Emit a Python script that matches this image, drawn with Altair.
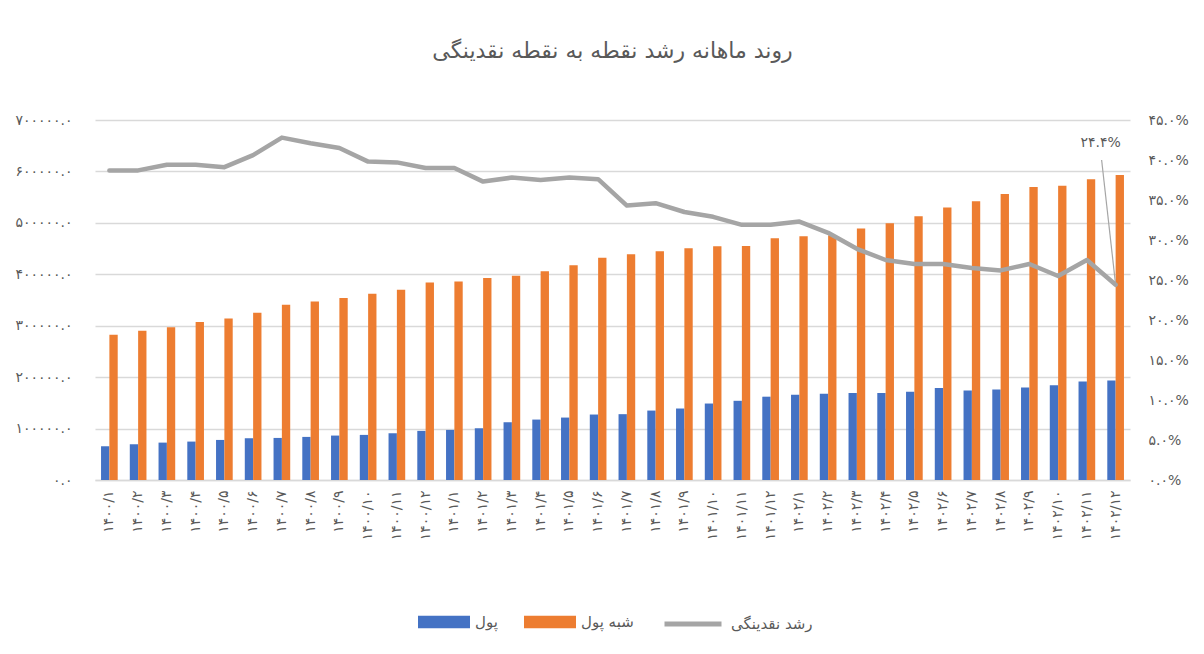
import altair as alt
import pandas as pd

months = [
    "۱۴۰۰/۱", "۱۴۰۰/۲", "۱۴۰۰/۳", "۱۴۰۰/۴", "۱۴۰۰/۵", "۱۴۰۰/۶",
    "۱۴۰۰/۷", "۱۴۰۰/۸", "۱۴۰۰/۹", "۱۴۰۰/۱۰", "۱۴۰۰/۱۱", "۱۴۰۰/۱۲",
    "۱۴۰۱/۱", "۱۴۰۱/۲", "۱۴۰۱/۳", "۱۴۰۱/۴", "۱۴۰۱/۵", "۱۴۰۱/۶",
    "۱۴۰۱/۷", "۱۴۰۱/۸", "۱۴۰۱/۹", "۱۴۰۱/۱۰", "۱۴۰۱/۱۱", "۱۴۰۱/۱۲",
    "۱۴۰۲/۱", "۱۴۰۲/۲", "۱۴۰۲/۳", "۱۴۰۲/۴", "۱۴۰۲/۵", "۱۴۰۲/۶",
    "۱۴۰۲/۷", "۱۴۰۲/۸", "۱۴۰۲/۹", "۱۴۰۲/۱۰", "۱۴۰۲/۱۱", "۱۴۰۲/۱۲",
]

pool = [
    65600, 69500, 72700, 74700, 77900, 81200, 81800, 83800, 86400, 87700, 90900, 95500,
    97400, 100600, 112300, 117500, 121400, 127300, 128000, 135000, 139000, 148700, 154000, 162000,
    166000, 167500, 169000, 169000, 171500, 179000, 174000, 176000, 180000, 184000, 191600, 193500,
]

quasi_money = [
    282500, 290000, 297000, 307000, 314000, 325000, 341000, 347000, 354000, 362000, 370000, 384000,
    386000, 393000, 397000, 406000, 417500, 432000, 439000, 445000, 450600, 454500, 455000, 470000,
    474000, 476000, 489000, 499000, 513000, 530000, 542000, 556000, 569500, 572000, 585000, 593000,
]

growth_pct = [
    38.7, 38.7, 39.4, 39.4, 39.1, 40.6, 42.8, 42.1, 41.5, 39.8, 39.7, 39.0,
    39.0, 37.3, 37.8, 37.5, 37.8, 37.6, 34.3, 34.6, 33.5, 32.9, 31.9, 31.9,
    32.3, 30.9, 28.9, 27.5, 27.0, 27.0, 26.5, 26.2, 27.0, 25.5, 27.5, 24.4,
]

series_names = ["پول", "شبه پول"]
series_colors = ["#4472C4", "#ED7D31"]
line_name = "رشد نقدینگی"
line_color = "#A5A5A5"
title_text = "روند ماهانه رشد نقطه به نقطه نقدینگی"
annot_text = "۲۴.۴%"
annot_label_level = 0.421
annot_leader_top = 0.40

FONT = "DejaVu Sans"
TXT = "#595959"
GRID = "#D9D9D9"

bars_df = pd.DataFrame({
    "month": months * 2,
    "series": [series_names[0]] * len(months) + [series_names[1]] * len(months),
    "value": pool + quasi_money,
})
line_df = pd.DataFrame({
    "month": months,
    "growth": [g / 100 for g in growth_pct],
    "name": line_name,
})
ann_df = pd.DataFrame({
    "month": [months[-1]],
    "growth": [growth_pct[-1] / 100],
    "top": [annot_leader_top],
    "label_y": [annot_label_level],
    "text": [annot_text],
})

FA = "۰۱۲۳۴۵۶۷۸۹"


def fa_expr(e):
    for i, d in enumerate(FA):
        e = f"replace({e}, regexp('{i}', 'g'), '{d}')"
    return e


x_enc = alt.X(
    "month:N",
    sort=months,
    scale=alt.Scale(paddingInner=0.42, paddingOuter=0.21),
    axis=alt.Axis(
        title=None, labelAngle=-90, labelFont=FONT, labelFontSize=14,
        labelColor=TXT, labelPadding=10, ticks=False,
        domainColor=GRID, domainWidth=1.5, grid=False,
    ),
)

left_axis = alt.Axis(
    title=None, values=[0, 100000, 200000, 300000, 400000, 500000, 600000, 700000],
    labelExpr=fa_expr("format(datum.value, '.1f')"),
    labelFont=FONT, labelFontSize=14, labelColor=TXT, labelPadding=23,
    ticks=False, domain=False, grid=True, gridColor=GRID, gridWidth=1.5,
)

right_axis = alt.Axis(
    title=None, orient="right",
    values=[0, 0.05, 0.10, 0.15, 0.20, 0.25, 0.30, 0.35, 0.40, 0.45],
    labelExpr=fa_expr("format(datum.value, '.1%')"),
    labelFont=FONT, labelFontSize=14, labelColor=TXT, labelPadding=18,
    ticks=False, domain=False, grid=False,
)

right_scale = alt.Scale(domain=[0, 0.45], nice=False)

bars = alt.Chart(bars_df).mark_bar().encode(
    x=x_enc,
    xOffset=alt.XOffset("series:N", sort=series_names, scale=alt.Scale(paddingInner=0)),
    y=alt.Y("value:Q", scale=alt.Scale(domain=[0, 700000], nice=False), axis=left_axis),
    color=alt.Color(
        "series:N",
        scale=alt.Scale(domain=series_names, range=series_colors),
        legend=alt.Legend(
            title=None, orient="none", direction="horizontal",
            legendX=323, legendY=476,
            symbolType="M-1,-0.24H1V0.24H-1Z", symbolSize=2704,
            symbolStrokeWidth=0, labelFont=FONT, labelFontSize=15,
            labelColor=TXT, labelOffset=5, columnPadding=26,
        ),
    ),
)

line = alt.Chart(line_df).mark_line(
    strokeWidth=4.5, strokeCap="round", strokeJoin="round"
).encode(
    x=x_enc,
    y=alt.Y("growth:Q", scale=right_scale, axis=right_axis),
    stroke=alt.Stroke(
        "name:N",
        scale=alt.Scale(domain=[line_name], range=[line_color]),
        legend=alt.Legend(
            title=None, orient="none", direction="horizontal",
            legendX=567, legendY=473,
            symbolType="stroke", symbolSize=3249, symbolStrokeWidth=5,
            labelFont=FONT, labelFontSize=15, labelColor=TXT, labelOffset=7,
        ),
    ),
)

leader = alt.Chart(ann_df).mark_rule(
    color=line_color, strokeWidth=1.2, x2Offset=-14
).encode(
    x=x_enc,
    x2=alt.X2("month:N"),
    y=alt.Y("growth:Q", scale=right_scale, axis=right_axis),
    y2=alt.Y2("top:Q"),
)

label = alt.Chart(ann_df).mark_text(
    font=FONT, fontSize=14, color=TXT, dx=-15, baseline="middle"
).encode(
    x=x_enc,
    y=alt.Y("label_y:Q", scale=right_scale, axis=right_axis),
    text="text:N",
)

right_layer = alt.layer(line, leader, label)

chart = alt.layer(bars, right_layer).resolve_scale(
    y="independent", color="independent", stroke="independent"
).properties(
    width=1035,
    height=360,
    padding={"left": 87, "top": 112, "right": 66, "bottom": 160},
    autosize=alt.AutoSizeParams(type="none"),
    title=alt.TitleParams(
        title_text, font=FONT, fontSize=22, fontWeight="normal",
        color=TXT, anchor="middle", offset=50,
    ),
).configure_view(stroke=None)

chart.save("out.html", embed_options={"renderer": "svg", "actions": False})
